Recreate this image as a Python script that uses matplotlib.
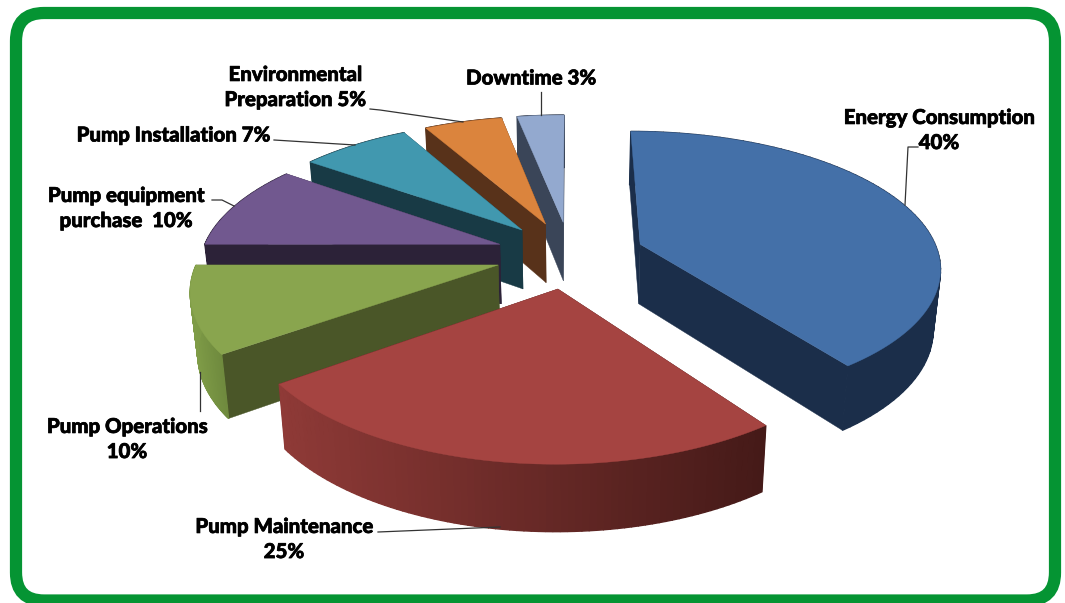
import numpy as np
import matplotlib
matplotlib.use("Agg")
import matplotlib.pyplot as plt
import matplotlib.patheffects as pe
from matplotlib.patches import Polygon, FancyBboxPatch

# ---- data ----
categories = ["Energy Consumption", "Pump Maintenance", "Pump Operations",
              "Pump equipment purchase", "Pump Installation",
              "Environmental Preparation", "Downtime"]
values = [40, 25, 10, 10, 7, 5, 3]

# ---- styles ----
top_colors = ["#4470A8", "#A54441", "#89A54E", "#71588F", "#4198AF", "#DB843D", "#93A9CF"]
radial_colors = ["#1B2E4A", "#451A18", "#4A5628", "#2C2238", "#183A45", "#58321A", "#3A4558"]
curve_left = ["#1B2E4A", "#8F3A37", "#7F9C47", "#2C2238", "#183A45", "#58321A", "#3A4558"]
curve_right = ["#1B2E4A", "#451A18", "#6F8A3E", "#2C2238", "#183A45", "#58321A", "#3A4558"]
draw_order = [6, 5, 4, 3, 2, 0, 1]
CX, CY, A, B, KX, KY, DEPTH, EXPLODE = 570, 254.5, 298.5, 134.2, 0.155, 0.162, 60, 0.25

W, H = 1065, 603
fig = plt.figure(figsize=(W / 100, H / 100), dpi=100)
ax = fig.add_axes([0, 0, 1, 1])
ax.set_xlim(0, W)
ax.set_ylim(H, 0)
ax.axis("off")
plt.rcParams["font.family"] = ["Lato", "DejaVu Sans"]

ax.add_patch(FancyBboxPatch((44, 41), 983, 531.5, boxstyle="round,pad=28,rounding_size=28",
                            fc="white", ec="#059433", lw=8.8, zorder=0))


def project(theta, r, z, mid):
    u = r * np.sin(theta) + EXPLODE * np.sin(mid)
    v = r * np.cos(theta) + EXPLODE * np.cos(mid)
    x = CX + A * u / (1 + KX * v)
    y = CY - B * v / (1 + KY * v) + z * DEPTH * (1 - 0.1 * v)
    x = CX + (x - CX) * (1 - 0.02 * z)
    return x, y


def hexmix(a, b, t):
    ca, cb = np.array(matplotlib.colors.to_rgb(a)), np.array(matplotlib.colors.to_rgb(b))
    return ca + (cb - ca) * t


fractions = np.array(values, dtype=float) / sum(values)
edges = np.concatenate([[0], np.cumsum(fractions)]) * 2 * np.pi
z = 1
for i in draw_order:
    t0, t1 = edges[i], edges[i + 1]
    mid = (t0 + t1) / 2
    ths = np.linspace(t0, t1, 80)
    # radial walls
    for t in (t0, t1):
        pts = [project(t, 0, 0, mid), project(t, 1, 0, mid), project(t, 1, 1, mid), project(t, 0, 1, mid)]
        ax.add_patch(Polygon(pts, fc=radial_colors[i], ec=radial_colors[i], lw=0.3, zorder=z))
    z += 1
    # curved wall, shaded across the screen
    xs = [project(t, 1, 0, mid)[0] for t in ths]
    xmin, xmax = min(xs), max(xs)
    for a, b in zip(ths[:-1], ths[1:]):
        pts = [project(a, 1, 0, mid), project(b, 1, 0, mid), project(b, 1, 1, mid), project(a, 1, 1, mid)]
        f = (pts[0][0] - xmin) / max(xmax - xmin, 1)
        c = hexmix(curve_left[i], curve_right[i], f)
        ax.add_patch(Polygon(pts, fc=c, ec=c, lw=1.0, zorder=z))
    z += 1
    top = [project(0, 0, 0, mid)] + [project(t, 1, 0, mid) for t in ths]
    ax.add_patch(Polygon(top, fc=top_colors[i], ec=top_colors[i], lw=0.3, zorder=z))
    z += 1

# ---- leader lines ----
leaders = [
    [(905, 205), (908, 147), (918, 147)],
    [(370, 109), (380, 110), (463, 122)],
    [(541, 115), (541, 92)],
    [(274, 140), (355, 145)],
    [(212, 200), (222, 200), (234, 206)],
    [(200, 372), (200, 411)],
    [(378, 532), (500, 527)],
]
for seg in leaders:
    ax.plot(*zip(*seg), color="#333333", lw=0.9, zorder=200)

# ---- labels ----
labels = [
    ("Energy Consumption\n40%", 939, 130),
    ("Environmental\nPreparation 5%", 295, 87),
    ("Downtime 3%", 531, 78),
    ("Pump Installation 7%", 173, 135),
    ("Pump equipment\npurchase  10%", 126, 208),
    ("Pump Operations\n10%", 127, 439),
    ("Pump Maintenance\n25%", 284, 539),
]
for s, x, y in labels:
    ax.text(x, y, s, ha="center", va="center", fontsize=14.7, fontweight="black",
            color="black", linespacing=1.38, zorder=210,
            path_effects=[pe.withStroke(linewidth=0.5, foreground="black")])

fig.savefig("out.png", dpi=100)
